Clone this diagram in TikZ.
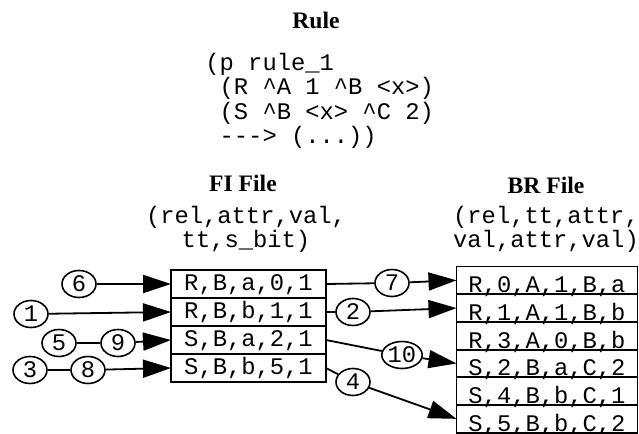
\documentclass[tikz,border=0pt]{standalone}
\usepackage{fontspec}
\setmainfont{Liberation Serif}
\setmonofont{Liberation Mono}
\usetikzlibrary{positioning,shapes.geometric,arrows.meta}

\tikzset{
  head/.style={font=\bfseries\fontsize{11.8}{13}\selectfont},
  code/.style={font=\ttfamily\fontsize{11.9}{10.9}\selectfont},
  firow/.style={draw, code, line width=0.9pt, minimum width=77.5pt, minimum height=14pt,
    inner sep=0pt, outer sep=0pt, text height=6.8pt, text depth=0pt},
  brrow/.style={draw, code, line width=0.9pt, minimum width=90.5pt, minimum height=13.85pt,
    inner sep=0pt, outer sep=0pt, text height=12.4pt, text depth=0pt},
  tag/.style={ellipse, draw, code, line width=0.8pt, minimum width=17pt, minimum height=13.5pt, inner sep=0pt},
  link/.style={line width=0.9pt},
  feed/.style={link, -{Triangle[length=14pt, width=9pt]}}
}

\begin{document}
\begin{tikzpicture}[x=0.5pt, y=-0.5pt]
\useasboundingbox (0,0) rectangle (639,434);

% the rule
\node[head] (rule) at (316,20) {Rule};
\node[code, align=left, anchor=north west, inner sep=0pt] (prod) at (205,53)
  {(p rule\_1\\
   \phantom{(}(R \textasciicircum A 1 \textasciicircum B <x>)\\
   \phantom{(}(S \textasciicircum B <x> \textasciicircum C 2)\\
   \phantom{(}\mbox{-}\mbox{-}\mbox{-}> (...))};

% FI file
\node[head] (fihead) at (243,183) {FI File};
\node[code, align=center] (fifields) at (246,229) {(rel,attr,val,\\tt,s\_bit)};
\node[firow] (fi1) at (248.5,284) {R,B,a,0,1};
\node[firow, below=0pt of fi1] (fi2) {R,B,b,1,1};
\node[firow, below=0pt of fi2] (fi3) {S,B,a,2,1};
\node[firow, below=0pt of fi3] (fi4) {S,B,b,5,1};

% BR file
\node[head] (brhead) at (546,185) {BR File};
\node[code, align=center] (brfields) at (546,229) {(rel,tt,attr,\\val,attr,val)};
\node[brrow] (br1) at (547,280.35) {R,0,A,1,B,a};
\node[brrow, below=0pt of br1] (br2) {R,1,A,1,B,b};
\node[brrow, below=0pt of br2] (br3) {R,3,A,0,B,b};
\node[brrow, below=0pt of br3] (br4) {S,2,B,a,C,2};
\node[brrow, below=0pt of br4] (br5) {S,4,B,b,C,1};
\node[brrow, below=0pt of br5] (br6) {S,5,B,b,C,2};

% numbered steps
\node[tag] (t6) at (79,284) {6};
\node[tag] (t1) at (31,314) {1};
\node[tag] (t5) at (59,343) {5};
\node[tag] (t9) at (118,343) {9};
\node[tag] (t3) at (30,370) {3};
\node[tag] (t8) at (88,370) {8};
\node[tag] (t7) at (392,283) {7};
\node[tag] (t2) at (353,312) {2};
\node[tag] (t10) at (402,355) {10};
\node[tag] (t4) at (353,382) {4};

\draw[feed] (t6) -- (fi1.west);
\draw[feed] (t1) -- (fi2.west);
\draw[link] (t5) -- (t9);
\draw[feed] (t9) -- (fi3.west);
\draw[link] (t3) -- (t8);
\draw[feed] (t8) -- (fi4.west);

\draw[link] (fi1.east) -- (t7);
\draw[feed] (t7) -- (br1.west);
\draw[link] (fi2.east) -- (t2);
\draw[feed] (t2) -- (br2.west);
\draw[link] (fi3.east) -- (t10);
\draw[feed] (t10) -- (br4.west);
\draw[link] (fi4.east) -- (t4);
\draw[feed] (t4) -- (br6.west);
\end{tikzpicture}
\end{document}
